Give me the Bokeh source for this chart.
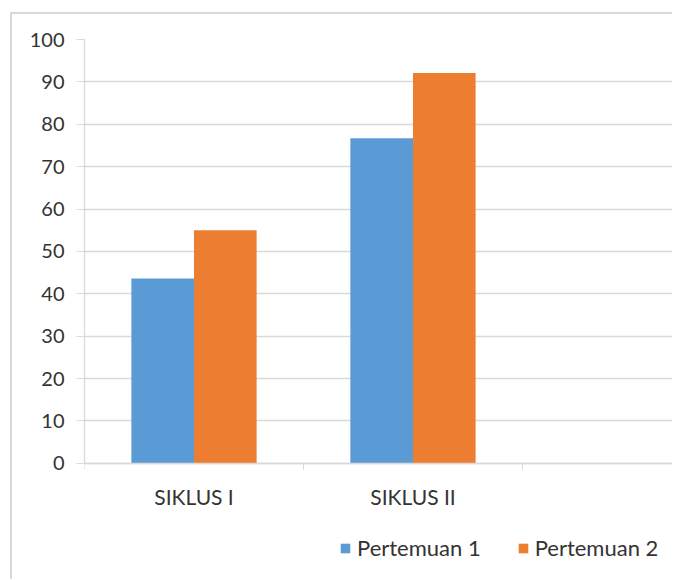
from bokeh.plotting import figure
from bokeh.models import ColumnDataSource, Range1d, FixedTicker, Legend, LegendItem
from bokeh.transform import dodge
from bokeh.embed import file_html
from bokeh.resources import INLINE

categories = ["SIKLUS I", "SIKLUS II"]
pertemuan1 = [43.6, 76.7]
pertemuan2 = [55.0, 92.1]
y_ticks = [0, 10, 20, 30, 40, 50, 60, 70, 80, 90, 100]
series_names = ["Pertemuan 1", "Pertemuan 2"]

cat_pos = [i + 0.5 for i in range(len(categories))]
src = ColumnDataSource(dict(x=cat_pos, p1=pertemuan1, p2=pertemuan2))

FONT = "Lato"
TXT = "#333333"

p = figure(frame_width=588, frame_height=540,
           output_backend="svg", toolbar_location=None,
           x_range=Range1d(0, 2.685), y_range=Range1d(-27.4, 100),
           min_border_left=72, min_border_right=0, min_border_top=25, min_border_bottom=0)
p.margin = (12, 0, 0, 10)
p.outline_line_color = None
p.background_fill_color = "white"
p.border_fill_color = "white"

r1 = p.vbar(x=dodge("x", -0.143, range=p.x_range), top="p1", width=0.286, source=src,
            fill_color="#5b9bd5", line_color=None)
r2 = p.vbar(x=dodge("x", 0.143, range=p.x_range), top="p2", width=0.286, source=src,
            fill_color="#ed7d31", line_color=None)

# y axis
p.yaxis.ticker = FixedTicker(ticks=y_ticks)
p.yaxis.bounds = (0, 100)
p.yaxis.axis_line_color = "#d9d9d9"
p.yaxis.axis_line_width = 1.3
p.yaxis.major_tick_line_color = "#d9d9d9"
p.yaxis.major_tick_out = 8
p.yaxis.major_tick_in = 0
p.yaxis.minor_tick_line_color = None
p.yaxis.major_label_text_font = FONT
p.yaxis.major_label_text_font_size = "20px"
p.yaxis.major_label_text_color = TXT
p.yaxis.major_label_standoff = 12

p.ygrid.grid_line_color = "#d9d9d9"
p.ygrid.grid_line_width = 1.3
p.xgrid.grid_line_color = None

# x axis drawn at y = 0: labels at category centers, tick marks at boundaries
p.xaxis.fixed_location = 0
p.xaxis.ticker = FixedTicker(ticks=cat_pos, minor_ticks=[0, 1, 2, 3])
p.xaxis.major_label_overrides = {c: n for c, n in zip(cat_pos, categories)}
p.xaxis.axis_line_color = "#d9d9d9"
p.xaxis.axis_line_width = 1.3
p.xaxis.major_tick_line_color = None
p.xaxis.minor_tick_line_color = "#d9d9d9"
p.xaxis.minor_tick_out = 6
p.xaxis.minor_tick_in = 0
p.xaxis.major_label_text_font = FONT
p.xaxis.major_label_text_font_size = "21px"
p.xaxis.major_label_text_color = TXT
p.xaxis.major_label_standoff = 15

legend = Legend(items=[LegendItem(label=series_names[0], renderers=[r1]),
                       LegendItem(label=series_names[1], renderers=[r2])],
                orientation="horizontal", location=(255, 18))
legend.label_text_font = FONT
legend.label_text_font_size = "22px"
legend.label_text_color = TXT
legend.glyph_width = 12
legend.glyph_height = 12
legend.label_standoff = 6
legend.spacing = 36
legend.border_line_color = None
legend.background_fill_alpha = 0
legend.padding = 4
legend.margin = 0
p.add_layout(legend)

p.styles = {"border-top": "2px solid #d9d9d9", "border-left": "2px solid #d9d9d9"}

open("out.html", "w").write(file_html(p, INLINE))
